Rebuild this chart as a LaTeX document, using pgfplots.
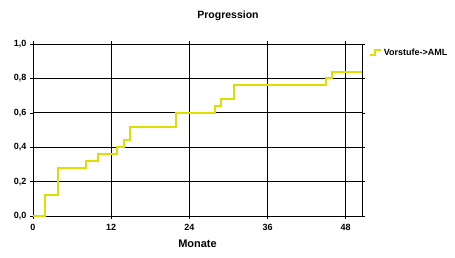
\documentclass[border=0pt]{standalone}
\usepackage{pgfplots}
\pgfplotsset{compat=1.18}
\usepackage{fontspec}
\setmainfont{Liberation Sans}
\definecolor{lineyellow}{RGB}{222,222,0}
\begin{document}
\begin{tikzpicture}[x=1pt,y=1pt]
\path[use as bounding box] (-33pt,-41pt) rectangle (422pt,216pt);
\begin{axis}[
  at={(0pt,0pt)}, anchor=south west,
  scale only axis, width=329pt, height=172pt,
  xmin=0, xmax=50.5, ymin=0, ymax=1,
  xtick={0,12,24,36,48}, ytick={0,0.2,0.4,0.6,0.8,1.0},
  grid=major, major grid style={black, line width=0.8pt},
  axis line style={black, line width=0.8pt},
  tick align=outside, tick style={black, line width=0.6pt}, major tick length=3pt,
  /pgf/number format/assume math mode=true,
  yticklabel style={/pgf/number format/.cd, fixed, fixed zerofill, precision=1, use comma},
  ticklabel style={font=\bfseries\fontsize{9}{10}\selectfont},
  xticklabel style={yshift=-2pt},
  xlabel={Monate}, xlabel style={font=\bfseries\fontsize{11}{13}\selectfont, yshift=-2pt},
  legend style={draw=none, fill=none, at={(1.02,0.985)}, anchor=north west,
    font=\bfseries\fontsize{9}{10}\selectfont, inner sep=0pt},
  legend cell align=left,
  legend image code/.code={\draw[#1] (0pt,-2pt) -- (5pt,-2pt) -- (5pt,3pt) -- (11pt,3pt);},
]
\addplot[const plot, color=lineyellow, line width=2pt] coordinates {
(0,0) (1.8,0.12) (3.9,0.28) (8.1,0.32) (10,0.36) (12.9,0.40) (14,0.44) (14.9,0.52)
(21.9,0.60) (27.9,0.64) (28.9,0.68) (30.9,0.76) (44.9,0.80) (45.9,0.84) (50.5,0.84)};
\addlegendentry{Vorstufe->AML}
\end{axis}
\node[font=\bfseries\fontsize{10.5}{12}\selectfont] at (195pt,200pt) {Progression};
\end{tikzpicture}
\end{document}
